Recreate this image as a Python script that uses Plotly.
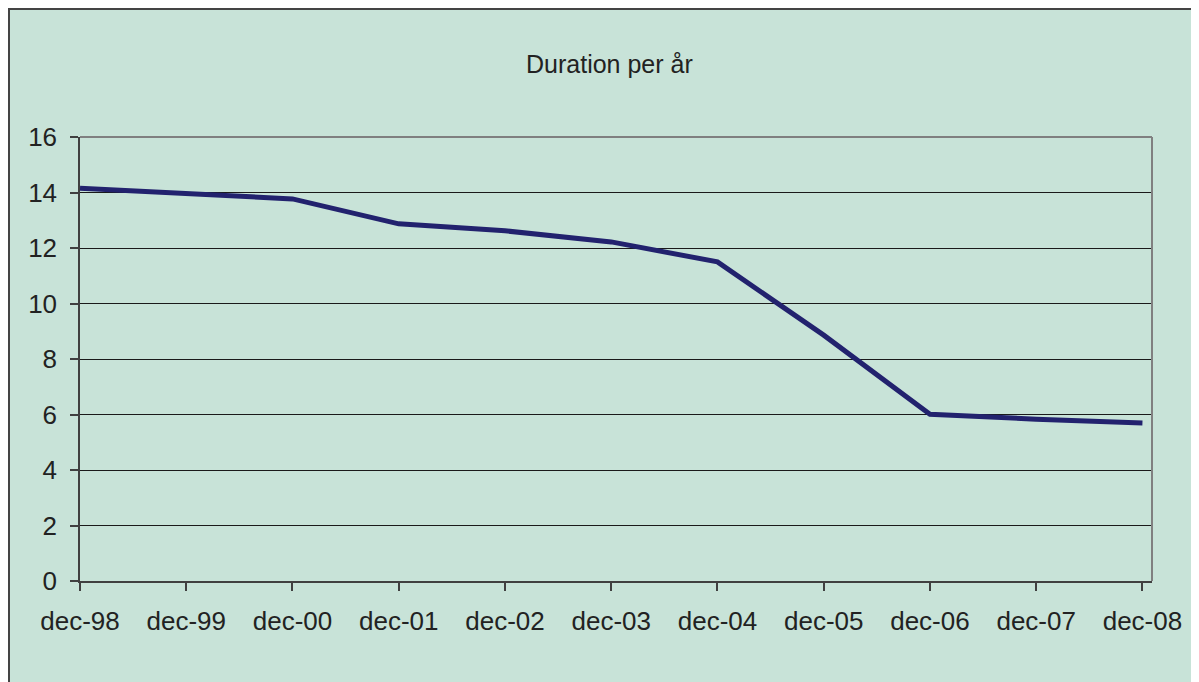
import plotly.graph_objects as go

categories = ["dec-98", "dec-99", "dec-00", "dec-01", "dec-02", "dec-03",
              "dec-04", "dec-05", "dec-06", "dec-07", "dec-08"]
duration = [14.15, 13.95, 13.77, 12.87, 12.62, 12.22, 11.5, 8.86, 6.01, 5.83, 5.69]
y_ticks = [0, 2, 4, 6, 8, 10, 12, 14, 16]
title_text = "Duration per år"

# page body has an 8px margin, so figure coords = screen coords - 8
OFF = 8
W, H = 1199 - OFF, 682 - OFF
L, R, T, B = 80 - OFF, 1152 - OFF, 137 - OFF, 581 - OFF
pw, ph = R - L, B - T

def px_x(p):
    return (p - OFF - L) / pw

def px_y(p):
    return (B - (p - OFF)) / ph

green = "#C8E3D8"
font = "Liberation Sans, Arial, sans-serif"

fig = go.Figure()
fig.add_trace(go.Scatter(
    x=categories, y=duration, mode="lines",
    line=dict(color="#22226E", width=5),
    hoverinfo="x+y", showlegend=False,
))

fig.update_layout(
    width=W, height=H,
    margin=dict(l=L, r=W - R, t=T, b=H - B, pad=0),
    paper_bgcolor="white",
    plot_bgcolor="rgba(0,0,0,0)",
    font=dict(family=font, size=26, color="#222222"),
    shapes=[
        # outer chart frame
        dict(type="rect", xref="paper", yref="paper",
             x0=px_x(9), x1=px_x(1230), y0=px_y(9), y1=px_y(720),
             fillcolor=green, line=dict(color="#444444", width=2), layer="below"),
        # plot area top and right borders
        dict(type="line", xref="paper", yref="paper",
             x0=0, x1=1, y0=1, y1=1, line=dict(color="#808080", width=2), layer="above"),
        dict(type="line", xref="paper", yref="paper",
             x0=1, x1=1, y0=0, y1=1, line=dict(color="#808080", width=2), layer="above"),
    ],
    annotations=[
        dict(text=title_text, xref="paper", yref="paper",
             x=px_x(609), y=px_y(64), xanchor="center", yanchor="middle",
             showarrow=False, font=dict(family=font, size=25, color="#222222")),
    ],
)

fig.update_xaxes(
    type="category", range=[0, len(categories) - 1 + 0.09],
    showgrid=False, showline=True, linecolor="#404040", linewidth=1.5,
    ticks="outside", ticklen=8, tickcolor="#404040", tickwidth=1.5,
    ticklabelstandoff=8, tickfont=dict(size=26, color="#222222"),
    zeroline=False, fixedrange=True,
)
fig.update_yaxes(
    range=[0, 16], tickmode="array", tickvals=y_ticks,
    ticktext=[str(v) for v in y_ticks],
    showgrid=True, gridcolor="#1a1a1a", gridwidth=1,
    showline=True, linecolor="#404040", linewidth=1.5,
    ticks="outside", ticklen=8, tickcolor="#404040", tickwidth=1.5,
    ticklabelstandoff=8, tickfont=dict(size=26, color="#222222"),
    zeroline=False, fixedrange=True,
)

fig.write_html("out.html")
